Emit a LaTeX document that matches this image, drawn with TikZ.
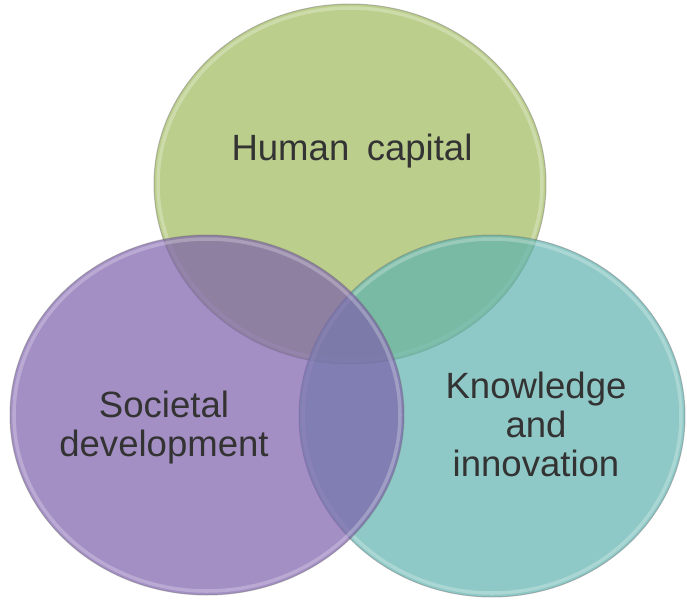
\documentclass[tikz,border=0pt]{standalone}
\usepackage{fontspec}
\setmainfont{Liberation Sans}

\definecolor{capgreen}{RGB}{159,185,91}
\definecolor{socpurple}{RGB}{124,95,171}
\definecolor{knowteal}{RGB}{94,178,175}
\definecolor{labelgray}{RGB}{51,51,51}

\tikzset{
  disc/.style={fill opacity=0.7, draw=black!55, draw opacity=0.45, line width=0.7pt},
  rim/.style={draw=white, draw opacity=0.25, line width=2.5pt},
  label/.style={labelgray, font=\fontsize{26}{27.5}\selectfont, align=center, anchor=base, inner sep=0pt}
}

\begin{document}
\begin{tikzpicture}[x=0.25mm, y=-0.25mm]

  \useasboundingbox (0,0) rectangle (687,599);

  % the three discs, green at the back and purple in front
  \draw[disc, fill=capgreen] (350,184) ellipse [x radius=196, y radius=180];
  \draw[rim] (350,184) ellipse [x radius=192, y radius=176];
  \draw[disc, fill=knowteal] (492,416) ellipse [x radius=193, y radius=181];
  \draw[rim] (492,416) ellipse [x radius=189, y radius=177];
  \draw[disc, fill=socpurple] (207,415) ellipse [x radius=197, y radius=180];
  \draw[rim] (207,415) ellipse [x radius=193, y radius=176];

  % base anchor sits on the last line of each label
  \node[label] (human) at (352,160) {Human\hspace{0.2em} capital};
  \node[label] (societal) at (164,456) {Societal\\development};
  \node[label] (knowledge) at (536,476) {Knowledge\\and\\innovation};

\end{tikzpicture}
\end{document}
